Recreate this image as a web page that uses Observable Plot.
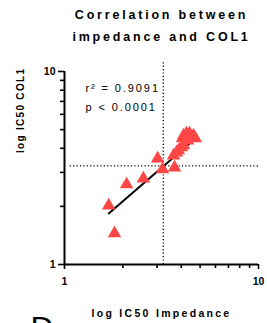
<!DOCTYPE html>
<html><head><meta charset="utf-8">
<script src="https://cdn.jsdelivr.net/npm/d3@7"></script>
<script src="https://cdn.jsdelivr.net/npm/@observablehq/plot@0.6"></script>
<style>
html,body{margin:0;padding:0;background:#fff;overflow:hidden;}
svg{font-family:Arial,"Liberation Sans",sans-serif;}
</style>
</head><body>
<div id="chart"></div>
<script>
// impedance IC50 (x) vs COL1 IC50 (y)
const impedanceIC50 = [1.69, 1.81, 2.09, 2.55, 3.02, 3.20, 3.69, 3.65, 3.78, 3.87, 4.01, 4.11, 4.06, 4.11, 4.25, 4.41, 4.62, 4.73, 4.31];
const col1IC50      = [2.02, 1.45, 2.60, 2.79, 3.54, 3.11, 3.18, 3.67, 3.80, 3.90, 4.04, 4.14, 4.50, 4.66, 4.77, 4.77, 4.66, 4.50, 4.39];
// fitted regression line (end points, log-log)
const fitX = [1.69, 4.73];
const fitY = [1.84, 4.49];
// reference (dotted) lines
const refX = 3.23;
const refY = 3.24;
const majorTicks = [1, 10];
const minorTicks = [2, 3, 4, 5, 6, 7, 8, 9];
const titleLines = ["Correlation between", "impedance and COL1"];
const statsLines = ["r\u00B2 = 0.9091", "p < 0.0001"];
const xLabel = "log IC50 Impedance";
const yLabel = "log IC50 COL1";
const panelLetter = "D";

const points = impedanceIC50.map((x, i) => ({x, y: col1IC50[i]}));
const fit = fitX.map((x, i) => ({x, y: fitY[i]}));

const chart = Plot.plot({
  width: 267, height: 323,
  marginLeft: 64, marginRight: 9, marginTop: 71, marginBottom: 59,
  x: {type: "log", domain: [1, 10], axis: null},
  y: {type: "log", domain: [1, 10], axis: null},
  style: {background: "#fff", overflow: "visible"},
  marks: [
    Plot.ruleY([refY], {x1: 1.07, x2: 10, stroke: "#000", strokeWidth: 1.3, strokeDasharray: "1.2,2.2"}),
    Plot.ruleX([refX], {y1: 1, y2: 11.4, stroke: "#000", strokeWidth: 1.3, strokeDasharray: "1.2,2.2"}),
    Plot.line(fit, {x: "x", y: "y", stroke: "#000", strokeWidth: 2}),
    Plot.dot(points, {x: "x", y: "y", symbol: "triangle", r: 5, fill: "#ff4646", stroke: "none"}),
    Plot.axisY(majorTicks, {tickSize: 6, tickPadding: 3, tickFormat: d => String(d), fontSize: 10.5, fontWeight: "bold", stroke: "#000", strokeWidth: 1.6, label: null, color: "#000"}),
    Plot.axisY(minorTicks, {tickSize: 4, tickFormat: () => "", stroke: "#000", strokeWidth: 1.6, label: null}),
    Plot.axisX(majorTicks, {tickSize: 5, tickPadding: 8, tickFormat: d => String(d), fontSize: 10.5, fontWeight: "bold", stroke: "#000", strokeWidth: 1.6, label: null, color: "#000"}),
    Plot.axisX(minorTicks, {tickSize: 4, tickFormat: () => "", stroke: "#000", strokeWidth: 1.6, label: null}),
    Plot.ruleX([1], {y1: 1, y2: 10, stroke: "#000", strokeWidth: 2}),
    Plot.ruleY([1], {x1: 1, x2: 10, stroke: "#000", strokeWidth: 2}),
    Plot.text([titleLines[0]], {frameAnchor: "top", dy: -53, lineAnchor: "bottom", fontSize: 12.5, fontWeight: "bold", fill: "#000"}),
    Plot.text([titleLines[1]], {frameAnchor: "top", dy: -31, lineAnchor: "bottom", fontSize: 12.5, fontWeight: "bold", fill: "#000"}),
    Plot.text([statsLines[0]], {frameAnchor: "top-left", dx: 21, dy: 20, textAnchor: "start", lineAnchor: "bottom", fontSize: 11, fill: "#000"}),
    Plot.text([statsLines[1]], {frameAnchor: "top-left", dx: 21, dy: 39, textAnchor: "start", lineAnchor: "bottom", fontSize: 11, fill: "#000"}),
    Plot.text([xLabel], {frameAnchor: "bottom", dy: 52, lineAnchor: "bottom", fontSize: 10.5, fontWeight: "bold", fill: "#000"}),
    Plot.text([yLabel], {frameAnchor: "left", dx: -44, dy: -15, rotate: -90, fontSize: 10, fontWeight: "bold", fill: "#000"}),
    Plot.text([panelLetter], {frameAnchor: "bottom-left", dx: -34, dy: 74, textAnchor: "start", lineAnchor: "bottom", fontSize: 32, fill: "#000"})
  ]
});
// letter spacing like the reference
const spacing = new Map([
  [titleLines[0], 2.8], [titleLines[1], 2.8],
  [statsLines[0], 1.9], [statsLines[1], 1.9],
  [xLabel, 2.3], [yLabel, 1.3]
]);
d3.select(chart).selectAll("text").each(function() {
  const s = spacing.get(this.textContent);
  if (s != null) this.setAttribute("letter-spacing", s);
});
document.getElementById("chart").appendChild(chart);
</script>
</body></html>
